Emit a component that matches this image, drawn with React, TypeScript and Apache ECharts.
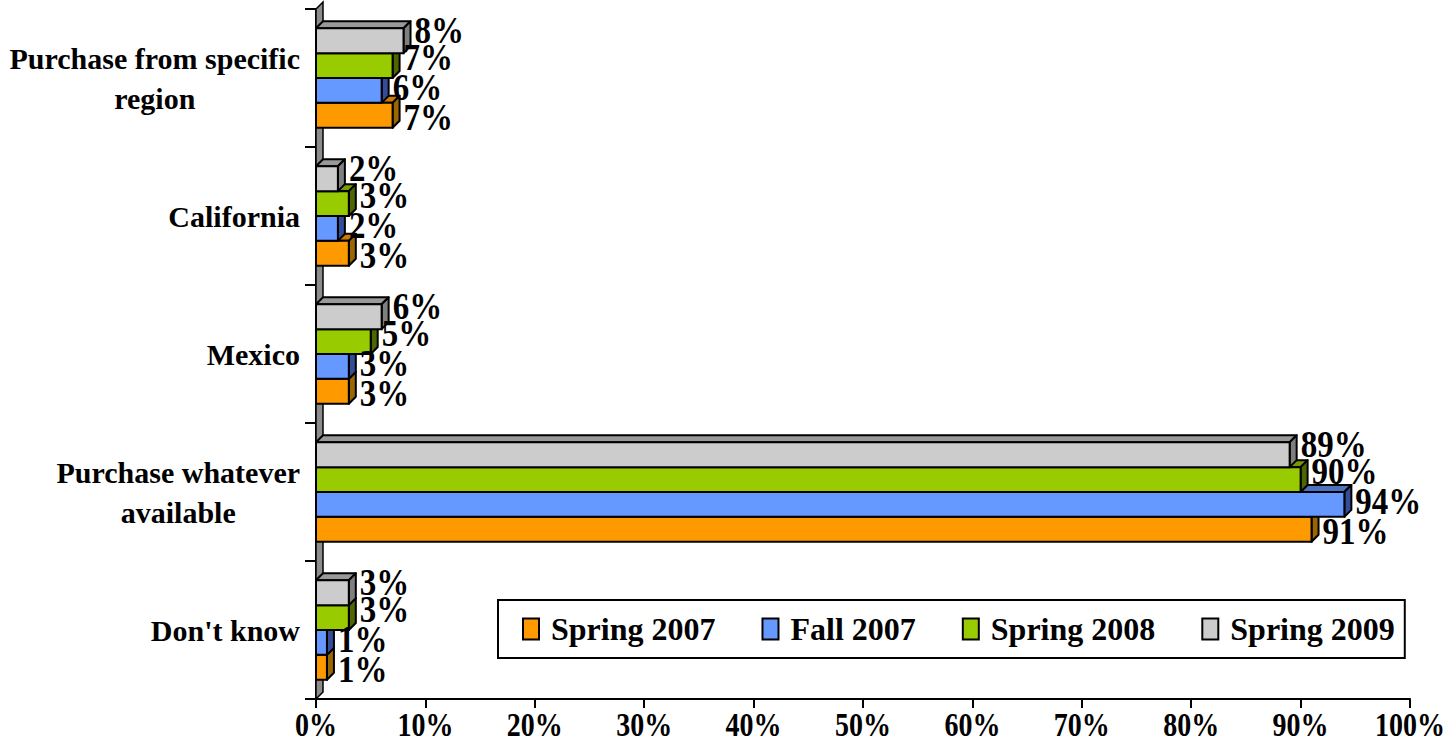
import React, { useEffect, useRef } from 'react';
import * as echarts from 'echarts';

const categories = ['Purchase from specific\nregion', 'California', 'Mexico', 'Purchase whatever\navailable', "Don't know"];
const seriesNames = ['Spring 2007', 'Fall 2007', 'Spring 2008', 'Spring 2009'];
const spring2007 = [7, 3, 3, 91, 1];
const fall2007 = [6, 2, 3, 94, 1];
const spring2008 = [7, 3, 5, 90, 3];
const spring2009 = [8, 2, 6, 89, 3];
const seriesValues = [spring2007, fall2007, spring2008, spring2009];
const xTickValues = [0, 10, 20, 30, 40, 50, 60, 70, 80, 90, 100];

const colors = ['#FF9900', '#6699FF', '#99CC00', '#CCCCCC'];
const topColors = ['#CC7A00', '#4D73BF', '#7A9900', '#999999'];
const sideColors = ['#996600', '#334D99', '#4D6600', '#7F7F7F'];
const labelShift = [2, -3, -8, -11];

const FONT = "'Liberation Serif', 'Times New Roman', serif";
const DEPTH = 7;

export default function App() {
  const ref = useRef<HTMLDivElement>(null);
  useEffect(() => {
    if (!ref.current) return;
    const chart = echarts.init(ref.current, undefined, { renderer: 'svg' });

    const wallSeries = {
      type: 'custom',
      name: 'wall',
      z: 1,
      silent: true,
      data: [[0, 0]],
      renderItem: (params: any, api: any) => {
        const cs = params.coordSys;
        const x0 = api.coord([0, 0])[0];
        const top = cs.y;
        const bottom = cs.y + cs.height;
        return {
          type: 'polygon',
          shape: {
            points: [
              [x0, top],
              [x0 + DEPTH, top - DEPTH],
              [x0 + DEPTH, bottom - DEPTH],
              [x0, bottom],
            ],
          },
          style: { fill: '#8C8C8C', stroke: '#000', lineWidth: 1.5 },
        };
      },
    };

    const xLabelSeries = {
      type: 'custom',
      name: 'xlabels',
      z: 4,
      silent: true,
      clip: false,
      data: xTickValues.map((v) => [v, 0]),
      encode: { x: 0, y: 1 },
      renderItem: (params: any, api: any) => {
        const cs = params.coordSys;
        const v = api.value(0);
        const x = api.coord([v, 0])[0];
        return {
          type: 'text',
          x,
          y: cs.y + cs.height + 9,
          scaleY: 1.2,
          style: {
            text: v + '%',
            x: 0,
            y: 0,
            align: 'center',
            verticalAlign: 'top',
            fontFamily: FONT,
            fontWeight: 'bold',
            fontSize: 28,
            fill: '#000',
          },
        };
      },
    };

    const barSeries = seriesValues.map((vals, sIdx) => ({
      type: 'custom',
      name: seriesNames[sIdx],
      z: 3,
      itemStyle: { color: colors[sIdx] },
      data: vals.map((v, i) => [v, i]),
      encode: { x: 0, y: 1 },
      renderItem: (params: any, api: any) => {
        const v = api.value(0);
        const c = api.value(1);
        const [x1, yc] = api.coord([v, c]);
        const x0 = api.coord([0, c])[0];
        const band = api.size([0, 1])[1];
        const barH = band * 0.18;
        const groupTop = yc - 2 * barH;
        const yTop = groupTop + (3 - sIdx) * barH;
        const d = DEPTH;
        const ly = yTop + barH / 2 + labelShift[sIdx];
        return {
          type: 'group',
          children: [
            {
              type: 'polygon',
              shape: { points: [[x0, yTop], [x0 + d, yTop - d], [x1 + d, yTop - d], [x1, yTop]] },
              style: { fill: topColors[sIdx], stroke: '#000', lineWidth: 2, lineJoin: 'round' },
            },
            {
              type: 'polygon',
              shape: { points: [[x1, yTop], [x1 + d, yTop - d], [x1 + d, yTop + barH - d], [x1, yTop + barH]] },
              style: { fill: sideColors[sIdx], stroke: '#000', lineWidth: 2, lineJoin: 'round' },
            },
            {
              type: 'rect',
              shape: { x: x0, y: yTop, width: x1 - x0, height: barH },
              style: { fill: colors[sIdx], stroke: '#000', lineWidth: 2 },
            },
            {
              type: 'text',
              z2: 100,
              x: x1 + d + 4,
              y: ly,
              scaleY: 1.15,
              style: {
                text: v + '%',
                x: 0,
                y: 0,
                align: 'left',
                verticalAlign: 'middle',
                fontFamily: FONT,
                fontWeight: 'bold',
                fontSize: 33,
                fill: '#000',
              },
            },
          ],
        };
      },
    }));

    chart.setOption({
      animation: false,
      backgroundColor: '#fff',
      grid: { left: 316, right: 34, top: 9, bottom: 53, containLabel: false },
      legend: {
        left: 498,
        top: 600,
        orient: 'horizontal',
        padding: [13, 10, 13, 24],
        borderColor: '#000',
        borderWidth: 2,
        backgroundColor: '#fff',
        itemGap: 46,
        itemWidth: 16,
        itemHeight: 21,
        selectedMode: false,
        textStyle: {
          fontFamily: FONT,
          fontWeight: 'bold',
          fontSize: 32,
          color: '#000',
          padding: [0, 0, 0, 7],
        },
        data: seriesNames.map((n, i) => ({
          name: n,
          icon: 'rect',
          itemStyle: { color: colors[i], borderColor: '#000', borderWidth: 2 },
        })),
      },
      xAxis: {
        type: 'value',
        min: 0,
        max: 100,
        interval: 10,
        axisLine: { show: true, lineStyle: { color: '#000', width: 2 } },
        axisTick: { show: true, length: 9, lineStyle: { color: '#000', width: 2 } },
        splitLine: { show: false },
        axisLabel: { show: false },
      },
      yAxis: {
        type: 'category',
        inverse: true,
        data: categories,
        axisLine: { show: true, lineStyle: { color: '#000', width: 2 } },
        axisTick: { show: true, length: 11, lineStyle: { color: '#000', width: 2 } },
        splitLine: { show: false },
        axisLabel: {
          formatter: (val: string) =>
            val
              .split('\n')
              .map((line) => '{c|' + line + '}')
              .join('\n'),
          align: 'right',
          margin: 16,
          rich: {
            c: {
              align: 'center',
              fontFamily: FONT,
              fontWeight: 'bold',
              fontSize: 30,
              lineHeight: 40,
              color: '#000',
            },
          },
        },
      },
      series: [wallSeries, ...barSeries, xLabelSeries],
    });
    return () => chart.dispose();
  }, []);
  return (
    <div
      ref={ref}
      style={{ position: 'fixed', left: 0, top: 0, width: 1444, height: 752, background: '#fff' }}
    />
  );
}
